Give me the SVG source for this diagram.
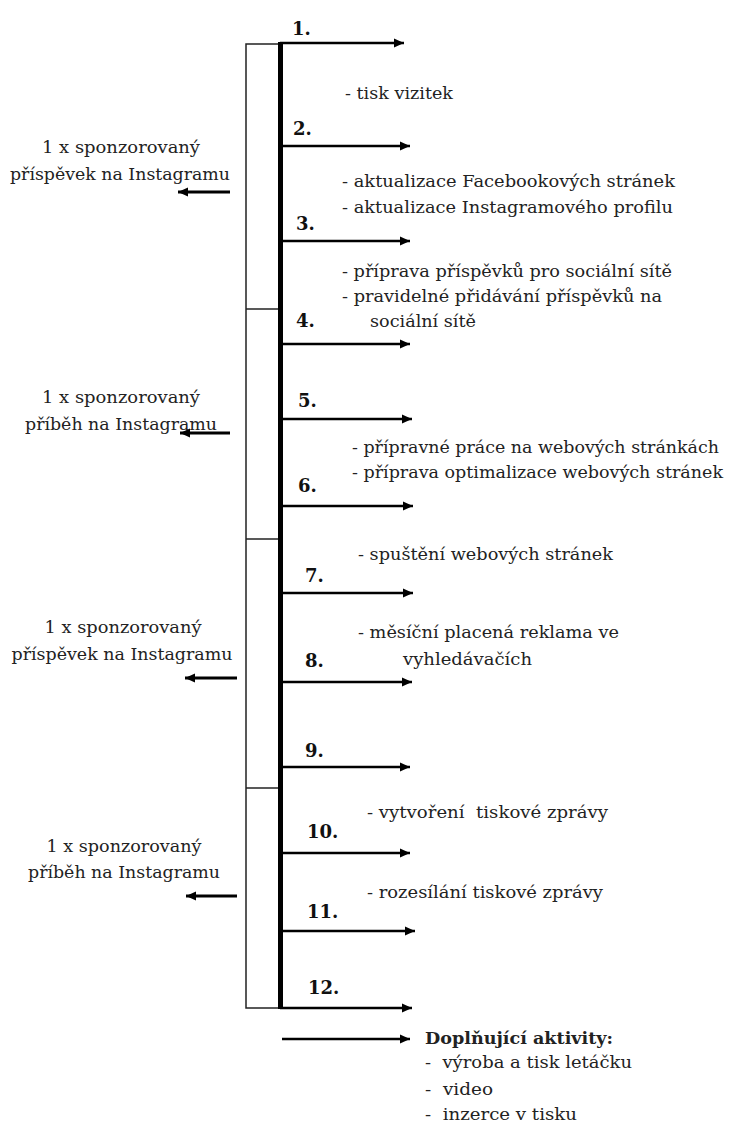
<svg xmlns="http://www.w3.org/2000/svg" width="730" height="1124" viewBox="0 0 730 1124">
<style>
text{font-family:"DejaVu Serif","Liberation Serif",serif;font-size:17.5px;fill:#222}
.num{font-weight:bold;font-size:18px;fill:#111}
.b{font-weight:bold}
.lft{text-anchor:middle}
.ar{stroke:#000;stroke-width:2.5;fill:none;marker-end:url(#ah)}
.al{stroke:#000;stroke-width:3;fill:none;marker-end:url(#ah)}
.thin{stroke:#222;stroke-width:1.5;fill:none}
</style>
<defs>
<marker id="ah" markerUnits="userSpaceOnUse" markerWidth="10" markerHeight="10" viewBox="0 0 10 10" refX="10" refY="5" orient="auto">
<path d="M0,0.5 L10,5 L0,9.5 z" fill="#000"/>
</marker>
</defs>
<g id="connectors">
<rect class="thin" x="246" y="44" width="34" height="964"/>
<line class="thin" x1="246" y1="309" x2="280" y2="309"/>
<line class="thin" x1="246" y1="539" x2="280" y2="539"/>
<line class="thin" x1="246" y1="788" x2="280" y2="788"/>
<line x1="280.5" y1="42" x2="280.5" y2="1009" stroke="#000" stroke-width="5"/>
<line class="ar" x1="280" y1="43" x2="404" y2="43"/>
<line class="ar" x1="280" y1="146" x2="410" y2="146"/>
<line class="ar" x1="280" y1="241" x2="410" y2="241"/>
<line class="ar" x1="280" y1="344" x2="410" y2="344"/>
<line class="ar" x1="280" y1="419" x2="412" y2="419"/>
<line class="ar" x1="280" y1="506" x2="413" y2="506"/>
<line class="ar" x1="280" y1="593" x2="413" y2="593"/>
<line class="ar" x1="280" y1="682" x2="412" y2="682"/>
<line class="ar" x1="280" y1="767" x2="410" y2="767"/>
<line class="ar" x1="280" y1="853" x2="410" y2="853"/>
<line class="ar" x1="280" y1="931" x2="415" y2="931"/>
<line class="ar" x1="280" y1="1008" x2="412" y2="1008"/>
<line class="ar" x1="282" y1="1039" x2="410" y2="1039"/>
<line class="al" x1="230" y1="192" x2="178" y2="192"/>
<line class="al" x1="230" y1="433" x2="180" y2="433"/>
<line class="al" x1="237" y1="678" x2="185" y2="678"/>
<line class="al" x1="237" y1="896" x2="186" y2="896"/>
</g>
<g id="n1"><text class="num" x="292" y="35">1.</text></g>
<g id="n2"><text class="num" x="293" y="135">2.</text></g>
<g id="n3"><text class="num" x="296" y="230">3.</text></g>
<g id="n4"><text class="num" x="296" y="327">4.</text></g>
<g id="n5"><text class="num" x="298" y="407">5.</text></g>
<g id="n6"><text class="num" x="298" y="492">6.</text></g>
<g id="n7"><text class="num" x="305" y="582">7.</text></g>
<g id="n8"><text class="num" x="305" y="667">8.</text></g>
<g id="n9"><text class="num" x="305" y="757">9.</text></g>
<g id="n10"><text class="num" x="307" y="838">10.</text></g>
<g id="n11"><text class="num" x="307" y="918">11.</text></g>
<g id="n12"><text class="num" x="308" y="994">12.</text></g>
<g id="t1"><text x="345" y="99" textLength="108" lengthAdjust="spacingAndGlyphs">- tisk vizitek</text></g>
<g id="t2">
<text x="342" y="187" textLength="333" lengthAdjust="spacingAndGlyphs">- aktualizace Facebookových stránek</text>
<text x="342" y="213" textLength="331" lengthAdjust="spacingAndGlyphs">- aktualizace Instagramového profilu</text>
</g>
<g id="t3">
<text x="342" y="277" textLength="330" lengthAdjust="spacingAndGlyphs">- příprava příspěvků pro sociální sítě</text>
<text x="342" y="302" textLength="320" lengthAdjust="spacingAndGlyphs">- pravidelné přidávání příspěvků na</text>
<text x="370" y="327" textLength="106" lengthAdjust="spacingAndGlyphs">sociální sítě</text>
</g>
<g id="t5">
<text x="352" y="453" textLength="367" lengthAdjust="spacingAndGlyphs">- přípravné práce na webových stránkách</text>
<text x="352" y="478" textLength="371" lengthAdjust="spacingAndGlyphs">- příprava optimalizace webových stránek</text>
</g>
<g id="t6"><text x="358" y="560" textLength="255" lengthAdjust="spacingAndGlyphs">- spuštění webových stránek</text></g>
<g id="t7">
<text x="358" y="638" textLength="261" lengthAdjust="spacingAndGlyphs">- měsíční placená reklama ve</text>
<text x="403" y="665" textLength="129" lengthAdjust="spacingAndGlyphs">vyhledávačích</text>
</g>
<g id="t9"><text x="367" y="818" xml:space="preserve" textLength="241" lengthAdjust="spacingAndGlyphs">- vytvoření  tiskové zprávy</text></g>
<g id="t10"><text x="367" y="898" textLength="236" lengthAdjust="spacingAndGlyphs">- rozesílání tiskové zprávy</text></g>
<g id="extra">
<text class="b" x="425" y="1044" textLength="188" lengthAdjust="spacingAndGlyphs">Doplňující aktivity:</text>
<text x="425" y="1068" xml:space="preserve" textLength="207" lengthAdjust="spacingAndGlyphs">-  výroba a tisk letáčku</text>
<text x="425" y="1095" xml:space="preserve" textLength="68" lengthAdjust="spacingAndGlyphs">-  video</text>
<text x="425" y="1120" xml:space="preserve" textLength="152" lengthAdjust="spacingAndGlyphs">-  inzerce v tisku</text>
</g>
<g id="l1">
<text class="lft" x="121" y="153" textLength="158" lengthAdjust="spacingAndGlyphs">1 x sponzorovaný</text>
<text class="lft" x="120" y="180" textLength="220" lengthAdjust="spacingAndGlyphs">příspěvek na Instagramu</text>
</g>
<g id="l2">
<text class="lft" x="121" y="403" textLength="158" lengthAdjust="spacingAndGlyphs">1 x sponzorovaný</text>
<text class="lft" x="121" y="430" textLength="192" lengthAdjust="spacingAndGlyphs">příběh na Instagramu</text>
</g>
<g id="l3">
<text class="lft" x="123" y="633" textLength="157" lengthAdjust="spacingAndGlyphs">1 x sponzorovaný</text>
<text class="lft" x="122" y="660" textLength="221" lengthAdjust="spacingAndGlyphs">příspěvek na Instagramu</text>
</g>
<g id="l4">
<text class="lft" x="124" y="852" textLength="155" lengthAdjust="spacingAndGlyphs">1 x sponzorovaný</text>
<text class="lft" x="124" y="878" textLength="192" lengthAdjust="spacingAndGlyphs">příběh na Instagramu</text>
</g>
</svg>
